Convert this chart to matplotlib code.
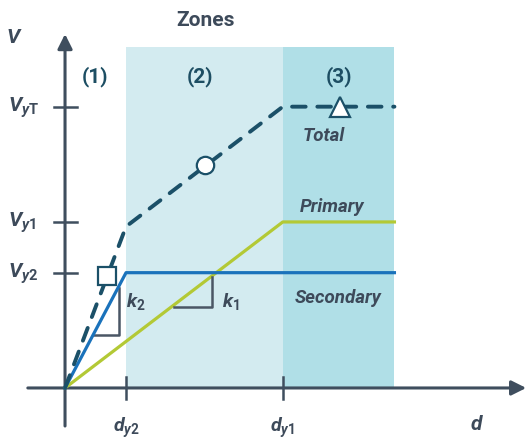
import numpy as np
import matplotlib.pyplot as plt

plt.rcParams["font.family"] = ["Roboto", "DejaVu Sans"]
plt.rcParams["mathtext.fontset"] = "custom"
plt.rcParams["mathtext.it"] = "Roboto:italic:bold"
plt.rcParams["mathtext.rm"] = "Roboto:bold"

## data (normalised units)
d_y2, d_y1, d_max = 1.0, 3.57, 5.4
V_y2, V_y1, V_yT = 1.0, 1.44, 2.44

secondary_d = [0, d_y2, d_max]
secondary_V = [0, V_y2, V_y2]
primary_d = [0, d_y1, d_max]
primary_V = [0, V_y1, V_y1]
total_d = [0, d_y2, d_y1, d_max]
total_V = [0, 1.40, V_yT, V_yT]

marker_d = [0.69, 2.3, 4.5]
marker_V = [0.97, 1.93, 2.44]
marker_shapes = ["s", "o", "^"]

zone_labels = ["(1)", "(2)", "(3)"]
zone_label_d = [0.49, 2.21, 4.49]

## colours
c_axis = "#3f4e5e"
c_text = "#3d4a5a"
c_zone = "#1d4e63"
c_sec = "#1a72bb"
c_pri = "#b3c935"
c_tot = "#1b5068"

fig = plt.figure(figsize=(5.26, 4.39), dpi=100)
ax = fig.add_axes([0, 0, 1, 1])
ax.set_xlim(-1.066, 7.557)
ax.set_ylim(-0.434, 3.374)
ax.axis("off")

# zones
ax.fill_between([d_y2, d_y1], 0, 2.957, color="#d3ebf0", lw=0, zorder=0)
ax.fill_between([d_y1, d_max], 0, 2.957, color="#b0dfe7", lw=0, zorder=0)

# axes with arrows
ax.annotate("", xy=(7.56, 0), xytext=(-0.61, 0),
            arrowprops=dict(arrowstyle="-|>", color=c_axis, lw=2.2,
                            mutation_scale=22, shrinkA=0, shrinkB=0), zorder=3)
ax.annotate("", xy=(0, 3.07), xytext=(0, -0.33),
            arrowprops=dict(arrowstyle="-|>", color=c_axis, lw=2.2,
                            mutation_scale=22, shrinkA=0, shrinkB=0), zorder=3)

# ticks
for v in [V_y2, V_y1, V_yT]:
    ax.plot([-0.18, 0.2], [v, v], color=c_axis, lw=1.8, zorder=3)
for d in [d_y2, d_y1]:
    ax.plot([d, d], [-0.095, 0.095], color=c_axis, lw=1.8, zorder=3)

# curves
ax.plot(primary_d, primary_V, color=c_pri, lw=2.3, zorder=4)
ax.plot(secondary_d, secondary_V, color=c_sec, lw=2.3, zorder=5)
ax.plot(total_d, total_V, color=c_tot, lw=2.8, dashes=(3.5, 3.0),
        solid_joinstyle="round", dash_capstyle="round", zorder=6)

for d, v, m in zip(marker_d, marker_V, marker_shapes):
    size = {"s": 12.5, "o": 12.5, "^": 14}[m]
    ax.plot(d, v, marker=m, ms=size, mfc="white", mec=c_tot, mew=1.6,
            linestyle="none", zorder=7)

# slope triangles
ax.plot([0.459, 0.885, 0.885], [0.46, 0.46, 0.87], color="#4a5665", lw=1.8, zorder=4)
ax.plot([1.787, 2.405, 2.405], [0.705, 0.705, 0.96], color="#4a5665", lw=1.8, zorder=4)
ax.text(1.0, 0.755, r"$k_{\mathrm{2}}$", fontsize=14, color=c_text, ha="left", va="center")
ax.text(2.58, 0.755, r"$k_{\mathrm{1}}$", fontsize=14, color=c_text, ha="left", va="center")

# labels
ax.text(2.295, 3.2, "Zones", fontsize=15, fontweight="bold", color=c_text,
        ha="center", va="center")
for lbl, d in zip(zone_labels, zone_label_d):
    ax.text(d, 2.706, lbl, fontsize=15, fontweight="bold", color=c_zone,
            ha="center", va="center")

ax.text(-0.83, 3.05, r"$V$", fontsize=15, color=c_text, ha="center", va="center")
for v, lbl in zip([V_yT, V_y1, V_y2],
                  [r"$V_{y\mathrm{T}}$", r"$V_{y\mathrm{1}}$", r"$V_{y\mathrm{2}}$"]):
    ax.text(-0.94, v, lbl, fontsize=15, color=c_text, ha="left", va="center")
for d, lbl in zip([d_y2, d_y1], [r"$d_{y\mathrm{2}}$", r"$d_{y\mathrm{1}}$"]):
    ax.text(d, -0.34, lbl, fontsize=14, color=c_text, ha="center", va="center")
ax.text(6.75, -0.31, r"$d$", fontsize=15, color=c_text, ha="center", va="center")

ax.text(4.25, 2.19, "Total", fontsize=13.5, style="italic", fontweight="bold",
        color=c_text, ha="center", va="center")
ax.text(4.38, 1.578, "Primary", fontsize=13.5, style="italic", fontweight="bold",
        color=c_text, ha="center", va="center")
ax.text(4.475, 0.789, "Secondary", fontsize=13.5, style="italic", fontweight="bold",
        color=c_text, ha="center", va="center")

fig.savefig("out.png", dpi=100)
